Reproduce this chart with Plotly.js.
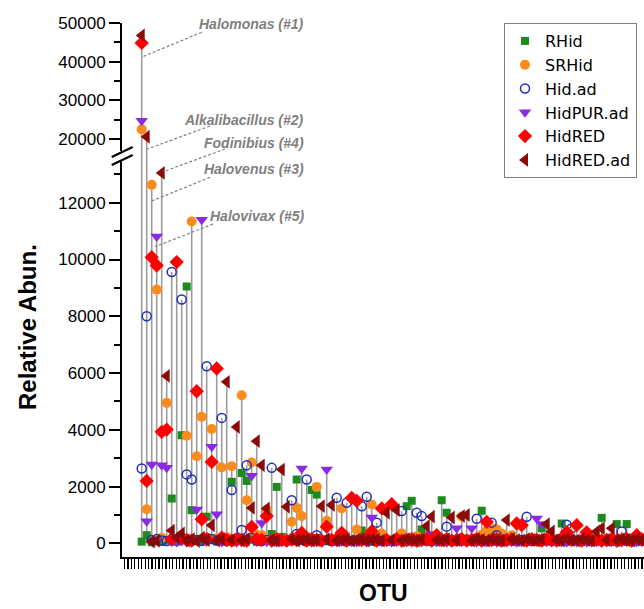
<!DOCTYPE html>
<html><head><meta charset="utf-8">
<script src="https://cdn.plot.ly/plotly-3.0.1.min.js"></script>
<style>body{margin:0;background:#fff;}#chart{width:644px;height:609px;}</style>
</head><body><div id="chart"></div>
<script>
// ---- data ----
const seriesNames = ['RHid','SRHid','Hid.ad','HidPUR.ad','HidRED','HidRED.ad'];
const RHid = [60,290,40,80,50,100,1580,60,3810,9050,
 1170,120,80,940,150,70,100,60,2170,90,
 2480,2200,150,60,110,80,330,1990,230,70,
 120,2250,90,60,1880,1720,80,100,60,140,
 90,70,60,110,450,80,120,60,90,70,
 60,100,80,1310,1500,90,490,70,60,120,
 1520,1080,80,60,90,70,100,60,1150,80,
 90,60,70,110,80,60,90,70,100,60,
 530,80,70,90,700,60,80,70,100,60,
 80,70,900,60,90,680,70,680,200,90,80];
const SRHid = [22500,1200,12630,8940,200,4950,150,150,120,3790,
 11340,3070,4460,200,4030,180,2670,220,2720,150,
 5220,1520,2850,300,290,1180,120,200,150,100,
 760,1250,960,150,120,1990,100,800,120,90,
 1230,150,100,490,120,90,1370,110,350,100,
 120,90,350,110,80,250,100,120,90,110,
 100,80,120,100,950,150,120,200,300,450,
 520,500,350,150,290,120,100,90,110,150,
 100,90,120,100,110,90,100,120,90,110,
 100,80,90,120,100,90,110,80,100,90,120];
const HidAd = [2640,8000,120,150,100,80,9560,100,8590,2430,
 2250,120,80,6240,150,100,4420,90,1880,110,
 470,2750,190,100,80,120,2660,90,100,80,
 1520,330,120,2250,100,290,90,120,80,1610,
 100,1430,90,110,1310,1640,100,730,90,120,
 80,100,1140,90,110,1080,960,100,80,120,
 90,590,110,80,100,120,90,870,100,80,
 730,290,110,90,100,80,120,940,90,100,
 80,110,90,100,80,660,530,100,90,110,
 80,100,90,110,80,100,420,90,110,80,100];
const HidPURad = [24700,780,2780,10810,2750,2660,60,50,80,40,
 60,1190,11400,70,3400,1030,50,60,80,40,
 60,50,2380,70,720,60,50,40,60,50,
 70,60,2640,50,40,60,50,2600,60,50,
 70,40,60,50,60,40,910,60,50,70,
 40,60,50,60,40,50,60,70,330,50,
 60,40,50,530,60,50,530,40,60,50,
 60,40,70,50,60,40,50,60,60,880,
 680,60,40,50,60,40,70,50,60,40,
 50,60,40,50,60,40,50,60,40,50,60];
const HidRED = [44840,2200,10080,9790,3930,4010,150,9910,200,120,
 100,5360,850,150,2870,6160,200,120,100,150,
 120,100,580,150,120,960,100,150,120,100,
 150,120,370,100,150,120,100,590,120,150,
 370,100,1600,1500,120,150,420,100,1230,120,
 1380,150,100,120,150,100,120,150,100,290,
 120,150,100,120,150,100,120,150,100,760,
 120,150,100,120,150,700,640,100,150,120,
 100,150,120,100,150,390,120,640,100,390,
 120,150,100,120,150,100,120,150,100,290,150];
const HidREDad = [46800,20600,60,90,13050,5900,450,200,350,100,
 150,80,200,120,640,100,150,5690,120,4100,
 100,150,1250,3600,2750,1230,120,100,2600,1290,
 150,100,120,150,100,120,1310,150,1350,100,
 120,150,100,120,150,100,120,150,100,1080,
 120,1170,100,150,120,100,150,610,940,120,
 100,150,910,120,960,1000,100,150,120,100,
 150,120,100,820,150,120,100,150,120,100,
 150,680,420,120,100,150,120,100,150,120,
 100,420,530,120,530,100,150,120,100,150,120];
const highlightLabels = ['Halomonas (#1)','Alkalibacillus (#2)','Fodinibius (#4)','Halovenus (#3)','Halovivax (#5)'];

// ---- build ----
const allSeries = [RHid, SRHid, HidAd, HidPURad, HidRED, HidREDad];
const otuIndex = RHid.map((_, i) => i + 1);
const styles = [
  {symbol:'square', color:'#1d8a1d', size:8},
  {symbol:'circle', color:'#fb8c1c', size:10},
  {symbol:'circle-open', color:'#2030b8', size:9, line:{width:1.5, color:'#2030b8'}},
  {symbol:'triangle-down', color:'#8a2be2', size:11},
  {symbol:'diamond', color:'#ff0000', size:11},
  {symbol:'triangle-left', color:'#8b0a0a', size:12}
];
const maxVals = otuIndex.map((_, i) => Math.max(...allSeries.map(s => s[i])));
const stemX = [], stemY = [];
otuIndex.forEach((o, i) => { stemX.push(o, o, null); stemY.push(0, maxVals[i], null); });

const traces = [];
['y','y2'].forEach(ax => traces.push({x: stemX, y: stemY, yaxis: ax, mode:'lines', type:'scatter',
  line:{color:'#9c9c9c', width:1.6}, hoverinfo:'skip', showlegend:false}));
allSeries.forEach((s, k) => {
  ['y','y2'].forEach(ax => traces.push({
    x: otuIndex, y: s, yaxis: ax, type:'scatter', mode:'markers', name: seriesNames[k],
    legendgroup: seriesNames[k], showlegend: ax === 'y', cliponaxis: true,
    marker: Object.assign({}, styles[k], {line: styles[k].line || {width:0}})
  }));
});

// ---- layout helpers (pixel -> paper) ----
const L = 122, T = 23, W = 522, H = 534;
const pX = px => (px - L) / W;
const pY = py => (T + H - py) / H;
const gray = '#808080';
const labelY = [24, 119.5, 142.5, 169.5, 216];
const annotations = highlightLabels.map((t, i) => ({
  text: '<b><i>' + t + '</i></b>', xref:'paper', yref:'paper', x: pX(306), y: pY(labelY[i]),
  xanchor:'right', yanchor:'middle', showarrow:false, font:{size:14, color:gray}
}));
annotations.push({text:'<b>Relative Abun.</b>', xref:'paper', yref:'paper', x:pX(27), y:pY(327),
  textangle:-90, showarrow:false, xanchor:'center', yanchor:'middle', font:{size:24, color:'#000'}});
annotations.push({text:'<b>OTU</b>', xref:'paper', yref:'paper', x:pX(383), y:pY(608),
  showarrow:false, xanchor:'center', yanchor:'bottom', font:{size:23, color:'#000'}});

const leaderLines = [[201.7,32.3,142.7,56.7],[210,126,146.7,149.3],[225,149,163.3,171.7],[210,177.3,150,201.7],[213,224,155,246.7]];
const shapes = leaderLines.map(l => ({type:'line', xref:'paper', yref:'paper',
  x0:pX(l[0]), y0:pY(l[1]), x1:pX(l[2]), y1:pY(l[3]), line:{color:gray, width:1.2, dash:'3px,2px'}}));
shapes.push({type:'rect', xref:'paper', yref:'paper', x0:pX(115), x1:pX(129), y0:pY(160), y1:pY(151),
  fillcolor:'#fff', line:{width:0}});
shapes.push({type:'line', xref:'paper', yref:'paper', x0:pX(111.7), y0:pY(157), x1:pX(132.7), y1:pY(147), line:{color:'#000', width:2}});
shapes.push({type:'line', xref:'paper', yref:'paper', x0:pX(111.7), y0:pY(165), x1:pX(132.7), y1:pY(155), line:{color:'#000', width:2}});

const split = 0.7509;
const yCommon = {showline:true, linecolor:'#000', linewidth:2, ticks:'outside', ticklen:11, tickwidth:2,
  tickcolor:'#000', showgrid:false, zeroline:false, tickformat:'d', anchor:'x',
  tickfont:{size:17, color:'#000'}};
const layout = {
  width:644, height:609, margin:{l:L, r:0, t:T, b:609 - T - H}, paper_bgcolor:'#fff', plot_bgcolor:'#fff',
  font:{family:'Liberation Sans, Arial, sans-serif', color:'#000'},
  xaxis:{range:[-2.94, 101.46], showline:true, linecolor:'#000', linewidth:2, ticks:'outside', ticklen:10,
    tickwidth:1.3, tickcolor:'#000', tick0:1, dtick:0.69, showticklabels:false, showgrid:false, zeroline:false, anchor:'y'},
  yaxis: Object.assign({}, yCommon, {domain:[0, split], range:[-480, 13646], dtick:2000, tick0:0,
    minor:{dtick:1000, ticks:'outside', ticklen:6, tickwidth:2, tickcolor:'#000'}}),
  yaxis2: Object.assign({}, yCommon, {domain:[split, 1], range:[15604, 50000], dtick:10000, tick0:0,
    minor:{dtick:5000, ticks:'outside', ticklen:6, tickwidth:2, tickcolor:'#000'}}),
  legend:{x:pX(504), y:1, xanchor:'left', yanchor:'top', bordercolor:gray, borderwidth:1, bgcolor:'#fff',
    font:{size:16, color:'#000', family:'DejaVu Sans, sans-serif'}, tracegroupgap:0, itemwidth:30},
  annotations, shapes, showlegend:true
};
Plotly.newPlot('chart', traces, layout, {displayModeBar:false, staticPlot:true});
</script></body></html>
